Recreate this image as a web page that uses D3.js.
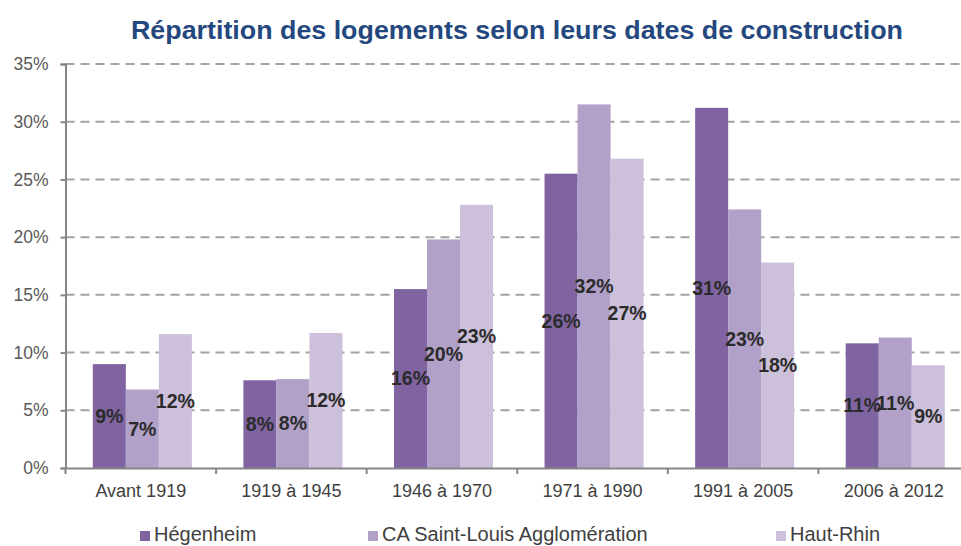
<!DOCTYPE html>
<html>
<head>
<meta charset="utf-8">
<script src="https://cdn.jsdelivr.net/npm/d3@7"></script>
<style>
  body { margin: 0; background: #fff; }
  text { font-family: "Liberation Sans", Arial, sans-serif; }
</style>
</head>
<body>
<div id="chart"></div>
<script>
const w = 961;
const h = 546;

const categories = ["Avant 1919", "1919 à 1945", "1946 à 1970", "1971 à 1990", "1991 à 2005", "2006 à 2012"];
const seriesNames = ["Hégenheim", "CA Saint-Louis Agglomération", "Haut-Rhin"];
const hegenheim = [9.0, 7.6, 15.5, 25.5, 31.2, 10.8];
const caSaintLouis = [6.8, 7.7, 19.8, 31.5, 22.4, 11.3];
const hautRhin = [11.6, 11.7, 22.8, 26.8, 17.8, 8.9];
const labelsH = ["9%", "8%", "16%", "26%", "31%", "11%"];
const labelsCA = ["7%", "8%", "20%", "32%", "23%", "11%"];
const labelsHR = ["12%", "12%", "23%", "27%", "18%", "9%"];
const yTicks = [0, 5, 10, 15, 20, 25, 30, 35];
const colors = ["#8064A2", "#B1A0C7", "#CCC0DA"];

const values = [hegenheim, caSaintLouis, hautRhin];
const labels = [labelsH, labelsCA, labelsHR];

// plot area (the right edge runs past the picture, as in the source)
const plotLeft = 65.5, plotRight = 969, plotTop = 64, plotBottom = 468;

const svg = d3.select("#chart")
              .append("svg")
              .attr("width", w)
              .attr("height", h);

const xScale = d3.scaleBand()
                 .domain(categories)
                 .range([plotLeft, plotRight])
                 .paddingInner(0)
                 .paddingOuter(0);

const xInner = d3.scaleBand()
                 .domain(seriesNames)
                 .range([0, xScale.bandwidth()])
                 .paddingOuter(0.78)
                 .align(0.53);

const yScale = d3.scaleLinear()
                 .domain([0, 35])
                 .range([plotBottom, plotTop]);

//Title
svg.append("text")
   .attr("x", 517)
   .attr("y", 39)
   .attr("text-anchor", "middle")
   .attr("font-size", 26)
   .attr("font-weight", "bold")
   .attr("fill", "#24487e")
   .attr("textLength", 772)
   .attr("lengthAdjust", "spacingAndGlyphs")
   .text("Répartition des logements selon leurs dates de construction");

//Gridlines
svg.append("g")
   .selectAll("line")
   .data(yTicks.filter(d => d > 0))
   .join("line")
   .attr("x1", plotLeft)
   .attr("x2", plotRight)
   .attr("y1", d => yScale(d))
   .attr("y2", d => yScale(d))
   .attr("stroke", "#a3a3a3")
   .attr("stroke-width", 2)
   .attr("stroke-dasharray", "9,6");

//Bars
const groups = svg.append("g")
   .selectAll("g")
   .data(categories)
   .join("g")
   .attr("transform", d => "translate(" + xScale(d) + ",0)");

groups.selectAll("rect")
   .data((c, i) => seriesNames.map((s, k) => ({ s: s, v: values[k][i], k: k })))
   .join("rect")
   .attr("x", d => xInner(d.s))
   .attr("width", xInner.bandwidth())
   .attr("y", d => yScale(d.v))
   .attr("height", d => plotBottom - yScale(d.v))
   .attr("fill", d => colors[d.k]);

groups.selectAll("text")
   .data((c, i) => seriesNames.map((s, k) => ({ s: s, v: values[k][i], t: labels[k][i] })))
   .join("text")
   .attr("x", d => xInner(d.s) + xInner.bandwidth() / 2)
   .attr("y", d => (yScale(d.v) + plotBottom) / 2)
   .attr("dy", "0.35em")
   .attr("text-anchor", "middle")
   .attr("font-size", 19.5)
   .attr("font-weight", "bold")
   .attr("fill", "#2b2b2b")
   .text(d => d.t);

//Y axis
const yAxis = d3.axisLeft(yScale)
                .tickValues(yTicks)
                .tickSize(5)
                .tickPadding(12)
                .tickFormat(d => d + "%");

const gy = svg.append("g")
   .attr("transform", "translate(" + plotLeft + ",0)")
   .call(yAxis);
gy.select(".domain").attr("stroke", "#868686").attr("stroke-width", 2);
gy.selectAll(".tick line").attr("stroke", "#868686").attr("stroke-width", 2);
gy.selectAll(".tick text")
  .attr("font-size", 17.5)
  .attr("font-family", "Liberation Sans, Arial, sans-serif")
  .attr("fill", "#595959");

//X axis
const xAxis = d3.axisBottom(xScale)
                .tickSize(0)
                .tickPadding(16);

const gx = svg.append("g")
   .attr("transform", "translate(0," + plotBottom + ")")
   .call(xAxis);
gx.select(".domain").attr("stroke", "#868686").attr("stroke-width", 2);
gx.selectAll(".tick text")
  .attr("font-size", 18)
  .attr("font-family", "Liberation Sans, Arial, sans-serif")
  .attr("fill", "#404040");

// tick marks between categories
gx.append("g")
  .selectAll("line")
  .data(categories)
  .join("line")
  .attr("x1", d => xScale(d))
  .attr("x2", d => xScale(d))
  .attr("y1", 0)
  .attr("y2", 6)
  .attr("stroke", "#868686")
  .attr("stroke-width", 2);

//Legend
const legendX = [140, 368, 776];
const legend = svg.append("g")
   .selectAll("g")
   .data(seriesNames)
   .join("g")
   .attr("transform", (d, i) => "translate(" + legendX[i] + ",541)");

legend.append("rect")
   .attr("x", 0)
   .attr("y", -10)
   .attr("width", 10)
   .attr("height", 10)
   .attr("fill", (d, i) => colors[i]);

legend.append("text")
   .attr("x", 14)
   .attr("y", 0)
   .attr("font-size", 20)
   .attr("fill", "#404040")
   .text(d => d);
</script>
</body>
</html>
